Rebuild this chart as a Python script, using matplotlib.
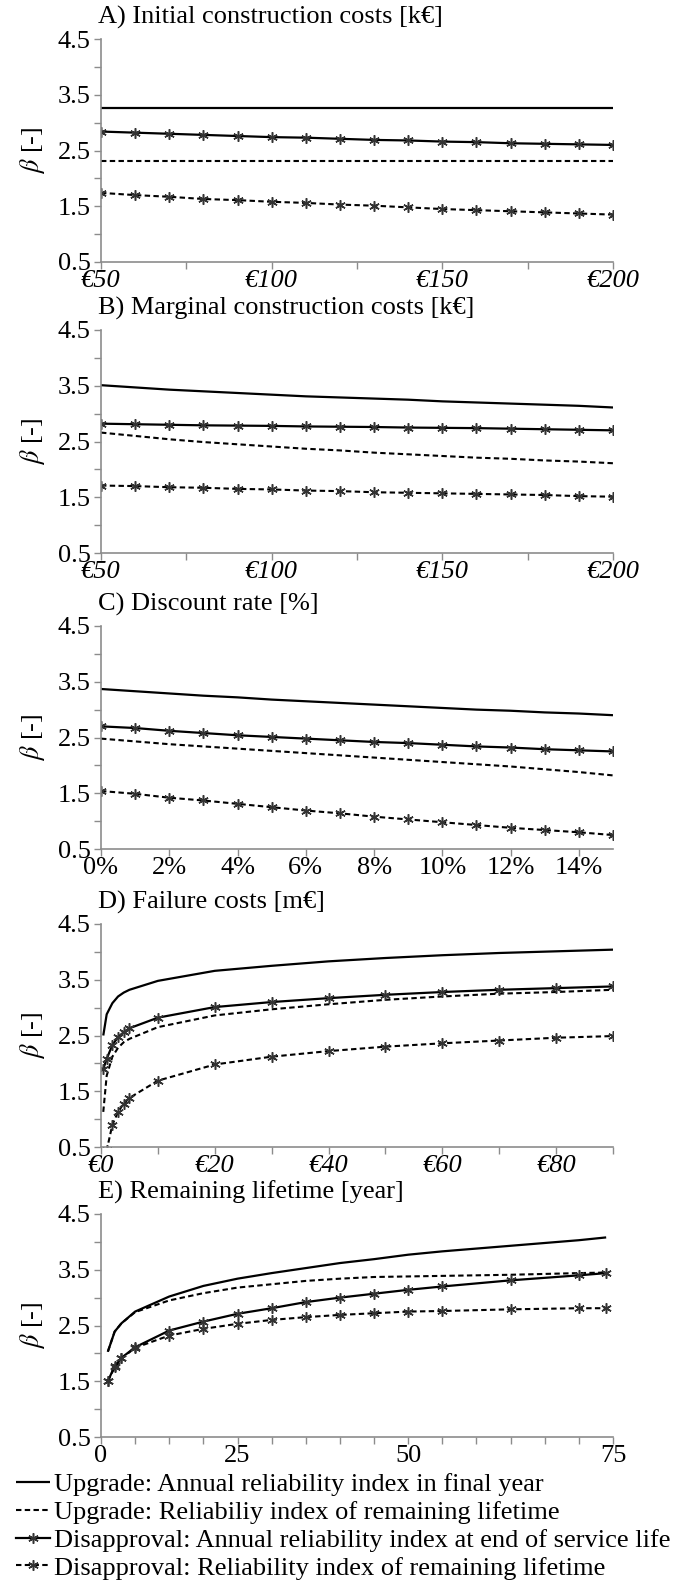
import matplotlib
matplotlib.use("Agg")
import matplotlib.pyplot as plt
from matplotlib.ticker import FixedLocator, FixedFormatter

plt.rcParams["font.family"] = "serif"
plt.rcParams["font.serif"] = ["Liberation Serif", "DejaVu Serif"]
plt.rcParams["mathtext.fontset"] = "stix"

# A) initial construction costs [k€]
a_x = [50, 60, 70, 80, 90, 100, 110, 120, 130, 140, 150, 160, 170, 180, 190, 200]
a_up_annual = [3.26] * 16
a_up_life = [2.32] * 16
a_dis_annual = [2.84, 2.82, 2.80, 2.78, 2.76, 2.74, 2.73, 2.71, 2.69, 2.68, 2.66, 2.65, 2.63, 2.62, 2.61, 2.60]
a_dis_life = [1.74, 1.70, 1.67, 1.63, 1.61, 1.58, 1.56, 1.53, 1.51, 1.48, 1.45, 1.43, 1.41, 1.39, 1.37, 1.35]

# B) marginal construction costs [k€]
b_x = [50, 60, 70, 80, 90, 100, 110, 120, 130, 140, 150, 160, 170, 180, 190, 200]
b_up_annual = [3.51, 3.47, 3.43, 3.40, 3.37, 3.34, 3.31, 3.29, 3.27, 3.25, 3.22, 3.20, 3.18, 3.16, 3.14, 3.11]
b_up_life = [2.66, 2.60, 2.54, 2.49, 2.45, 2.41, 2.37, 2.34, 2.30, 2.27, 2.24, 2.21, 2.19, 2.16, 2.14, 2.11]
b_dis_annual = [2.82, 2.81, 2.80, 2.79, 2.785, 2.78, 2.77, 2.765, 2.76, 2.75, 2.745, 2.74, 2.73, 2.72, 2.71, 2.70]
b_dis_life = [1.71, 1.70, 1.68, 1.67, 1.65, 1.64, 1.62, 1.61, 1.59, 1.58, 1.57, 1.56, 1.55, 1.54, 1.52, 1.51]

# C) discount rate [%]
c_x = [0.00, 0.01, 0.02, 0.03, 0.04, 0.05, 0.06, 0.07, 0.08, 0.09, 0.10, 0.11, 0.12, 0.13, 0.14, 0.15]
c_up_annual = [3.37, 3.33, 3.29, 3.25, 3.22, 3.18, 3.15, 3.12, 3.09, 3.06, 3.03, 3.00, 2.98, 2.95, 2.93, 2.90]
c_up_life = [2.48, 2.43, 2.38, 2.34, 2.30, 2.26, 2.22, 2.18, 2.14, 2.10, 2.06, 2.02, 1.98, 1.93, 1.88, 1.82]
c_dis_annual = [2.70, 2.67, 2.62, 2.58, 2.54, 2.51, 2.48, 2.45, 2.42, 2.40, 2.37, 2.34, 2.32, 2.29, 2.27, 2.25]
c_dis_life = [1.54, 1.49, 1.42, 1.37, 1.31, 1.25, 1.19, 1.14, 1.08, 1.03, 0.98, 0.93, 0.88, 0.84, 0.80, 0.75]

# D) failure costs [m€]
d_x = [0.4, 1, 2, 3, 4, 5, 10, 20, 30, 40, 50, 60, 70, 80, 90]
d_up_annual = [2.50, 2.88, 3.08, 3.20, 3.27, 3.32, 3.48, 3.66, 3.75, 3.83, 3.89, 3.94, 3.98, 4.01, 4.04]
d_up_life = [1.13, 1.78, 2.12, 2.28, 2.38, 2.44, 2.65, 2.86, 2.97, 3.06, 3.14, 3.20, 3.25, 3.28, 3.32]
d_dis_annual = [1.90, 2.08, 2.33, 2.47, 2.56, 2.63, 2.82, 3.01, 3.10, 3.17, 3.23, 3.28, 3.32, 3.35, 3.38]
d_dis_life = [-0.20, 0.44, 0.90, 1.13, 1.28, 1.38, 1.69, 1.98, 2.12, 2.22, 2.30, 2.36, 2.41, 2.46, 2.49]

# E) remaining lifetime [year]
e_x = [1, 2, 3, 5, 10, 15, 20, 25, 30, 35, 40, 45, 50, 60, 70, 74]
e_up_annual = [2.03, 2.39, 2.54, 2.75, 3.02, 3.21, 3.34, 3.44, 3.53, 3.62, 3.69, 3.77, 3.83, 3.93, 4.03, 4.08]
e_up_life = [2.03, 2.39, 2.54, 2.74, 2.95, 3.08, 3.18, 3.24, 3.30, 3.34, 3.37, 3.38, 3.39, 3.41, 3.44, 3.45]
e_dis_annual = [1.50, 1.77, 1.92, 2.11, 2.41, 2.57, 2.71, 2.81, 2.92, 3.00, 3.07, 3.14, 3.20, 3.31, 3.40, 3.44]
e_dis_life = [1.50, 1.75, 1.91, 2.10, 2.32, 2.44, 2.53, 2.60, 2.65, 2.69, 2.72, 2.75, 2.76, 2.79, 2.81, 2.81]

legend_labels = [
    "Upgrade: Annual reliability index in final year",
    "Upgrade: Reliabiliy index of remaining lifetime",
    "Disapproval: Annual reliability index at end of service life",
    "Disapproval: Reliability index of remaining lifetime",
]

panels = [
    ("A) Initial construction costs [k€]", a_x, a_up_annual, a_up_life, a_dis_annual, a_dis_life),
    ("B) Marginal construction costs [k€]", b_x, b_up_annual, b_up_life, b_dis_annual, b_dis_life),
    ("C) Discount rate [%]", c_x, c_up_annual, c_up_life, c_dis_annual, c_dis_life),
    ("D) Failure costs [m€]", d_x, d_up_annual, d_up_life, d_dis_annual, d_dis_life),
    ("E) Remaining lifetime [year]", e_x, e_up_annual, e_up_life, e_dis_annual, e_dis_life),
]

W, H = 678, 1588
FS = 19
GREY = "#8c8c8c"
DASH = (0, (2.6, 1.6))
STAR = (6, 2, 0)

fig = plt.figure(figsize=(W / 100, H / 100), dpi=100)
tops = [39, 330, 626, 924, 1214]
ax_h = 223
left, right = 101, 613

for i, (title, x, up_a, up_l, dis_a, dis_l) in enumerate(panels):
    ax = fig.add_axes([left / W, 1 - (tops[i] + ax_h) / H, (right - left) / W, ax_h / H])
    l1, = ax.plot(x, up_a, color="black", lw=1.6, solid_capstyle="butt")
    l2, = ax.plot(x, up_l, color="black", lw=1.5, linestyle=DASH)
    l3, = ax.plot(x, dis_a, color="black", lw=1.6, marker=STAR, markersize=7.5,
                  markeredgewidth=1.1, markeredgecolor="#333333")
    l4, = ax.plot(x, dis_l, color="black", lw=1.5, linestyle=DASH, marker=STAR, markersize=7.5,
                  markeredgewidth=1.1, markeredgecolor="#333333")

    ax.set_ylim(0.5, 4.5)
    ax.yaxis.set_major_locator(FixedLocator([0.5, 1.5, 2.5, 3.5, 4.5]))
    ax.yaxis.set_minor_locator(FixedLocator([1.0, 2.0, 3.0, 4.0]))
    ax.set_yticklabels(["0.5", "1.5", "2.5", "3.5", "4.5"])

    if i in (0, 1):
        ax.set_xlim(50, 200)
        ax.xaxis.set_major_locator(FixedLocator([50, 100, 150, 200]))
        ax.xaxis.set_minor_locator(FixedLocator([75, 125, 175]))
        ax.set_xticklabels(["€50", "€100", "€150", "€200"], fontstyle="italic")
    elif i == 2:
        ax.set_xlim(0, 0.15)
        ax.xaxis.set_major_locator(FixedLocator([0, 0.02, 0.04, 0.06, 0.08, 0.10, 0.12, 0.14]))
        ax.set_xticklabels(["0%", "2%", "4%", "6%", "8%", "10%", "12%", "14%"])
    elif i == 3:
        ax.set_xlim(0, 90)
        ax.xaxis.set_major_locator(FixedLocator([0, 20, 40, 60, 80]))
        ax.xaxis.set_minor_locator(FixedLocator([10, 30, 50, 70, 90]))
        ax.set_xticklabels(["€0", "€20", "€40", "€60", "€80"], fontstyle="italic")
    else:
        ax.set_xlim(0, 75)
        ticks = [0, 5, 10, 15, 20, 25, 30, 35, 40, 45, 50, 55, 60, 65, 70, 75]
        names = {0: "0", 20: "25", 45: "50", 75: "75"}
        ax.xaxis.set_major_locator(FixedLocator(ticks))
        ax.xaxis.set_major_formatter(FixedFormatter([names.get(t, "") for t in ticks]))

    for side in ("top", "right"):
        ax.spines[side].set_visible(False)
    for side in ("left", "bottom"):
        ax.spines[side].set_color(GREY)
        ax.spines[side].set_linewidth(1.2)
    ax.tick_params(which="both", direction="out", length=5, width=1, color=GREY,
                   labelsize=FS, pad=1)
    ax.tick_params(axis="y", which="both", pad=2.5)

    ax.set_ylabel(r"$\beta$ [-]", fontsize=FS)
    ax.yaxis.set_label_coords(-0.105, 0.5)
    ax.text(-0.006, 1.0 + 22 / ax_h, title, transform=ax.transAxes, fontsize=FS,
            ha="left", va="center")

fig.legend([l1, l2, l3, l4], legend_labels, loc="upper left",
           bbox_to_anchor=(16 / W, 1 - 1473 / H), frameon=False, fontsize=FS,
           handlelength=1.3, handletextpad=0.15, labelspacing=0.16,
           borderpad=0, borderaxespad=0, numpoints=1)

fig.savefig("out.png", dpi=100)
